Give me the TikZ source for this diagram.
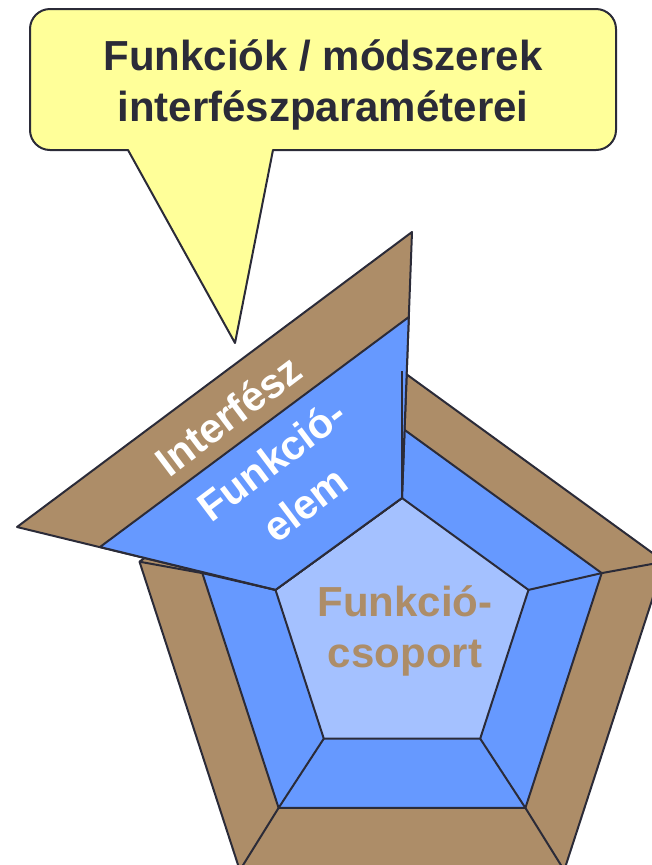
\documentclass[tikz,border=0pt]{standalone}
\usepackage{fontspec}
\setmainfont{Liberation Sans}
\usepackage{xcolor}
\definecolor{rimbrown}{HTML}{AD8D68}
\definecolor{ringblue}{HTML}{6699FF}
\definecolor{coreblue}{HTML}{A4C1FF}
\definecolor{bubbleyellow}{HTML}{FFFF99}
\definecolor{edge}{HTML}{2B2B38}

\begin{document}
\begin{tikzpicture}[
  x=0.75pt, y=-0.75pt, line width=1.5pt, line join=round,
  rim/.style={draw=edge,fill=rimbrown},
  ring/.style={draw=edge,fill=ringblue},
  core/.style={draw=edge,fill=coreblue},
  spoke/.style={draw=edge},
  bubble/.style={draw=edge,fill=bubbleyellow},
  flaptext/.style={text=white,inner sep=0pt,align=center,rotate=37,font=\fontsize{31}{41.7}\selectfont\bfseries},
  coretext/.style={text=rimbrown,inner sep=0pt,align=center,font=\fontsize{31.5}{38.25}\selectfont\bfseries},
  bubbletext/.style={text=edge,inner sep=0pt,align=center,font=\fontsize{31.5}{38.25}\selectfont\bfseries}
]
  \useasboundingbox (0,0) rectangle (652,865);
  \clip (0,0) rectangle (652,865);
  % outer pentagon
  \coordinate (o1) at (402.0,371.0);
  \coordinate (o2) at (664.5,561.7);
  \coordinate (o3) at (564.2,870.3);
  \coordinate (o4) at (239.8,870.3);
  \coordinate (o5) at (139.5,561.7);
  % middle pentagon
  \coordinate (m1) at (402.0,428.0);
  \coordinate (m2) at (601.7,573.1);
  \coordinate (m3) at (525.4,807.9);
  \coordinate (m4) at (278.6,807.9);
  \coordinate (m5) at (202.3,573.1);
  % inner pentagon
  \coordinate (i1) at (402.0,498.0);
  \coordinate (i2) at (528.5,589.9);
  \coordinate (i3) at (480.2,738.6);
  \coordinate (i4) at (323.8,738.6);
  \coordinate (i5) at (275.5,589.9);
  % flap
  \coordinate (fo1) at (17,527);
  \coordinate (fo2) at (412,232);
  \coordinate (fm1) at (100,547);
  \coordinate (fm2) at (408.8,317);
  \draw[rim] (o1) -- (o2) -- (o3) -- (o4) -- (o5) -- cycle;
  \draw[ring] (m1) -- (m2) -- (m3) -- (m4) -- (m5) -- cycle;
  \draw[core] (i1) -- (i2) -- (i3) -- (i4) -- (i5) -- cycle;
  \draw[rim] (i5) -- (fo1) -- (fo2) -- (i1) -- cycle;
  \draw[ring] (i5) -- (fm1) -- (fm2) -- (i1) -- cycle;
  \draw[spoke] (i1) -- (m1) -- (o1);
  \draw[spoke] (i2) -- (m2) -- (o2);
  \draw[spoke] (i3) -- (m3) -- (o3);
  \draw[spoke] (i4) -- (m4) -- (o4);
  \draw[spoke] (i5) -- (m5) -- (o5);
  \node[flaptext] (iface) at (228,415) {Interfész};
  \node[flaptext] (elem) at (288,482) {Funkció-\\elem};
  \node[coretext] (group) at (405,631) {Funkció-\\csoport};
  % callout
  \draw[bubble] (235,343) -- (128,150) -- (50,150)
    arc[start angle=90,end angle=180,radius=20] -- (30,29)
    arc[start angle=180,end angle=270,radius=20] -- (596,9)
    arc[start angle=270,end angle=360,radius=20] -- (616,130)
    arc[start angle=0,end angle=90,radius=20] -- (273,150) -- cycle;
  \node[bubbletext] (method) at (323,84.5) {Funkciók / módszerek\\interfészparaméterei};
\end{tikzpicture}
\end{document}
